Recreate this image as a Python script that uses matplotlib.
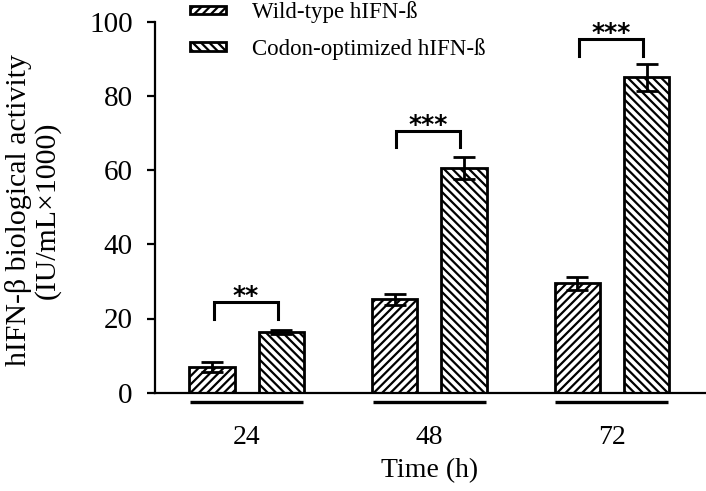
import numpy as np
import matplotlib.pyplot as plt

plt.rcParams['font.family'] = ['Liberation Serif', 'DejaVu Serif']
plt.rcParams['hatch.linewidth'] = 1.6

# data (IU/mL x 1000)
times = ['24', '48', '72']
wild_mean = [7.0, 25.2, 29.5]
wild_err = [1.3, 1.5, 1.8]
codon_mean = [16.4, 60.5, 85.0]
codon_err = [0.5, 3.0, 3.6]
signif = ['**', '***', '***']
bracket_top = [24.5, 70.6, 95.3]

x = np.arange(len(times))
w = 0.247
off = 0.19

fig = plt.figure(figsize=(7.06, 4.91), dpi=100)
ax = fig.add_axes([155/706, 1 - 392.7/491, 550/706, 371/491])

ax.bar(x - off, wild_mean, w, color='white', edgecolor='black', linewidth=2.0,
       hatch='////', label='Wild-type hIFN-\u00df', zorder=2)
ax.bar(x + off, codon_mean, w, color='white', edgecolor='black', linewidth=2.0,
       hatch='\\\\\\\\', label='Codon-optimized hIFN-\u00df', zorder=2)
ax.errorbar(x - off, wild_mean, yerr=wild_err, fmt='none', ecolor='black',
            elinewidth=2.0, capsize=8, capthick=2.0, zorder=3)
ax.errorbar(x + off, codon_mean, yerr=codon_err, fmt='none', ecolor='black',
            elinewidth=2.0, capsize=8, capthick=2.0, zorder=3)

# significance brackets
for i in range(len(times)):
    x1, x2 = x[i] - off + 0.01, x[i] + off - 0.02
    top = bracket_top[i]
    ax.plot([x1, x1, x2, x2], [top - 4.5, top, top, top - 4.5], color='black',
            lw=2.2, solid_joinstyle='miter', clip_on=False)
    ax.text((x1 + x2) / 2, top - 0.3, signif[i], ha='center', va='baseline',
            fontsize=18, fontweight='bold', family='DejaVu Sans')

# group underlines
for i in range(len(times)):
    ax.plot([x[i] - 0.31, x[i] + 0.31], [-2.6, -2.6], color='black', lw=2.4,
            clip_on=False, solid_capstyle='butt')

ax.set_xlim(-0.502, 2.51)
ax.set_ylim(0, 100)
ax.set_yticks([0, 20, 40, 60, 80, 100])
ax.set_xticks(x)
ax.set_xticklabels(times)
ax.spines['top'].set_visible(False)
ax.spines['right'].set_visible(False)
ax.spines['left'].set_linewidth(1.6)
ax.spines['bottom'].set_linewidth(1.6)
ax.tick_params(axis='y', direction='out', length=6, width=1.6, labelsize=21, pad=10)
ax.tick_params(axis='x', length=0, labelsize=20, pad=23)

fig.text(33/706, 1 - 210/491, 'hIFN-\u03b2 biological activity\n(IU/mL\u00d71000)',
         rotation=90, ha='center', va='center', fontsize=21.5, linespacing=1.12)
fig.text(430/706, 1 - 471/491, 'Time (h)', ha='center', va='center', fontsize=20)

ax.legend(loc='upper left', bbox_to_anchor=(188/706, 1 + 1/491), bbox_transform=fig.transFigure,
          frameon=False, fontsize=16.5, handlelength=1.55, handleheight=0.2,
          handletextpad=1.15, labelspacing=0.65, borderaxespad=0, borderpad=0.1)

fig.savefig('out.png', dpi=100)
